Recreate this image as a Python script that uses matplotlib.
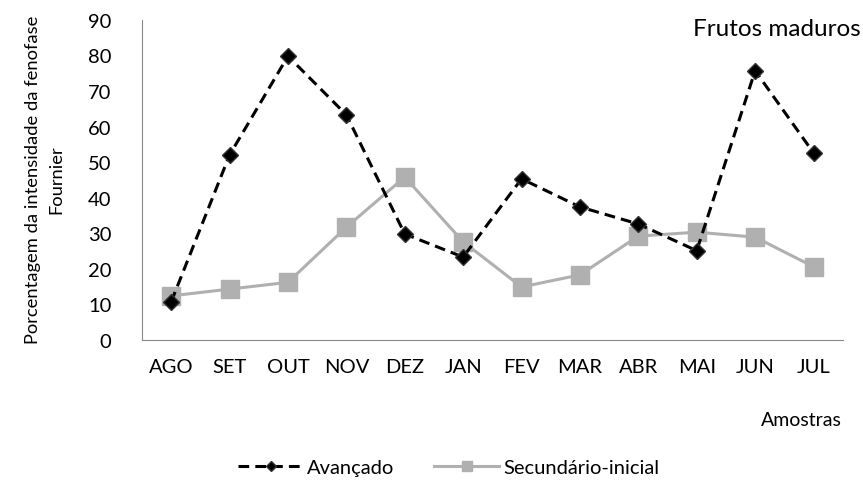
import matplotlib
matplotlib.use('Agg')
import matplotlib.pyplot as plt

plt.rcParams['font.family'] = ['Lato', 'DejaVu Sans']

meses = ['AGO', 'SET', 'OUT', 'NOV', 'DEZ', 'JAN', 'FEV', 'MAR', 'ABR', 'MAI', 'JUN', 'JUL']
avancado = [10.7, 52, 79.8, 63.3, 29.8, 23.3, 45.3, 37.4, 32.6, 25.1, 75.7, 52.6]
secundario = [12.4, 14.3, 16.2, 31.7, 45.8, 27.6, 14.9, 18.3, 29.2, 30.3, 28.9, 20.6]
yticks = [0, 10, 20, 30, 40, 50, 60, 70, 80, 90]

fig = plt.figure(figsize=(8.63, 4.85), dpi=100)
ax = fig.add_axes([0.1645, 0.297, 0.812, 0.66])

x = list(range(len(meses)))
ax.plot(x, avancado, color='black', linestyle='--', linewidth=2.2, dashes=(3.5, 2),
        marker='D', markersize=8, markerfacecolor='black', markeredgecolor='#333333',
        label='Avançado', zorder=3)
ax.plot(x, secundario, color='#b0b0b0', linestyle='-', linewidth=2.2,
        marker='s', markersize=13, markerfacecolor='#b0b0b0', markeredgecolor='#b0b0b0',
        label='Secundário-inicial', zorder=2)

ax.set_xlim(-0.5, len(meses) - 0.5)
ax.set_ylim(0, 90)
ax.set_yticks(yticks)
ax.set_xticks(x)
ax.set_xticklabels(meses)
ax.tick_params(axis='both', length=0, labelsize=14.5, colors='black')
ax.tick_params(axis='y', pad=22)
ax.tick_params(axis='x', pad=13)

for s in ['top', 'right']:
    ax.spines[s].set_visible(False)
ax.spines['left'].set_color('#888888')
ax.spines['bottom'].set_color('#888888')

fig.text(0.052, 0.63, 'Porcentagem da intensidade da fenofase\nFournier', rotation=90,
         ha='center', va='center', fontsize=13.2, linespacing=1.6)
fig.text(0.997, 0.94, 'Frutos maduros', ha='right', va='center', fontsize=17.5)
fig.text(0.975, 0.132, 'Amostras', ha='right', va='center', fontsize=14)

leg = fig.legend(loc='center', bbox_to_anchor=(0.52, 0.035), ncol=2, frameon=False,
                 fontsize=14.5, handlelength=3.2, columnspacing=2.0, handletextpad=0.2,
                 markerscale=0.6)

fig.savefig('out.png', dpi=100)
